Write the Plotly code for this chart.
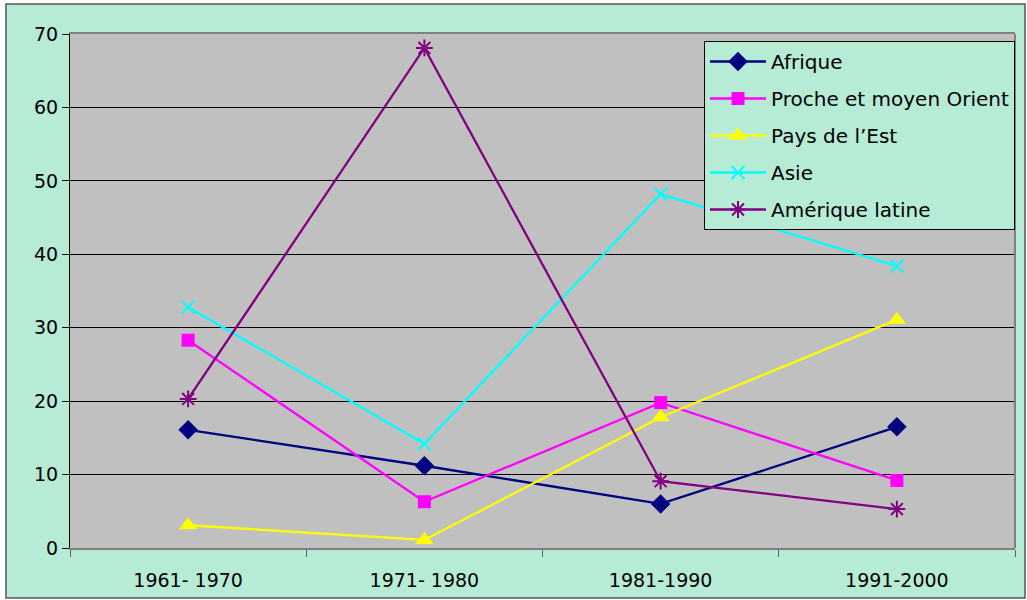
import plotly.graph_objects as go

categories = ["1961- 1970", "1971- 1980", "1981-1990", "1991-2000"]
afrique = [16.1, 11.2, 6.0, 16.5]
proche_orient = [28.3, 6.3, 19.8, 9.2]
pays_est = [3.1, 1.1, 17.8, 31.1]
asie = [32.8, 14.2, 48.2, 38.4]
amerique_latine = [20.3, 68.1, 9.1, 5.3]

series = [
    ("Afrique", afrique, "#000080", "diamond", 15),
    ("Proche et moyen Orient", proche_orient, "#FF00FF", "square", 13),
    ("Pays de l\u2019Est", pays_est, "#FFFF00", "triangle-up", 16),
    ("Asie", asie, "#00FFFF", "x-thin", 13),
    ("Am\u00e9rique latine", amerique_latine, "#800080", "asterisk", 14),
]

MINT = "#B6EBD6"
FONT = "DejaVu Sans"

fig = go.Figure()
for i, (name, vals, col, sym, sz) in enumerate(series):
    thin = sym in ("x-thin", "asterisk")
    fig.add_trace(go.Scatter(
        x=categories, y=vals, name=name, mode="lines+markers",
        legendgroup=f"g{i}",
        line=dict(color=col, width=2.3),
        marker=dict(symbol=sym + ("-open" if sym == "asterisk" else ""), size=sz, color=col,
                    line=dict(color=col, width=2 if thin else 0)),
    ))

L, R, T, B = 70, 12, 34, 52
W, H = 1027, 600
pw, ph = W - L - R, H - T - B

def px(x):
    return (x - L) / pw

def py(y):
    return (H - B - y) / ph

shapes = []
# white outer margins
for (x0, y0, x1, y1) in [(0, 0, 6, 600), (1025, 0, 1027, 600), (0, 0, 1027, 4), (0, 598, 1027, 600)]:
    shapes.append(dict(type="rect", xref="paper", yref="paper",
                       x0=px(x0), x1=px(x1), y0=py(y1), y1=py(y0),
                       fillcolor="white", line=dict(width=0), layer="above"))
# outer frame
shapes.append(dict(type="rect", xref="paper", yref="paper",
                   x0=px(6), x1=px(1025), y0=py(598), y1=py(4),
                   line=dict(color="#555555", width=1.5), fillcolor="rgba(0,0,0,0)", layer="above"))
# right border of plot area
shapes.append(dict(type="line", xref="paper", yref="paper", x0=1, x1=1, y0=0, y1=1,
                   line=dict(color="#808080", width=2), layer="above"))

fig.update_layout(
    width=W, height=H,
    margin=dict(l=L, r=R, t=T, b=B, autoexpand=False),
    paper_bgcolor=MINT, plot_bgcolor="#C0C0C0",
    font=dict(family=FONT, size=19, color="black"),
    shapes=shapes,
    legend=dict(
        x=px(704), y=py(41), xanchor="left", yanchor="top",
        bgcolor=MINT, bordercolor="black", borderwidth=1,
        font=dict(family=FONT, size=20, color="black"),
        traceorder="grouped", tracegroupgap=8, itemwidth=56,
    ),
    xaxis=dict(
        type="category", range=[-0.5, 3.5], automargin=False,
        showgrid=False, showline=True, linecolor="#808080", linewidth=2, mirror=True,
        ticks="outside", tickson="boundaries", ticklen=7, tickcolor="#606060",
        tickfont=dict(size=19), zeroline=False, ticklabelstandoff=14,
    ),
    yaxis=dict(
        range=[0, 70], dtick=10, tick0=0, automargin=False,
        showgrid=True, gridcolor="#000000", gridwidth=1,
        showline=True, linecolor="black", linewidth=1,
        ticks="outside", ticklen=7, tickcolor="black",
        tickfont=dict(size=19), zeroline=False,
    ),
)

fig.write_html("out.html", config={"displayModeBar": False},
               post_script="document.body.style.margin='0';")
